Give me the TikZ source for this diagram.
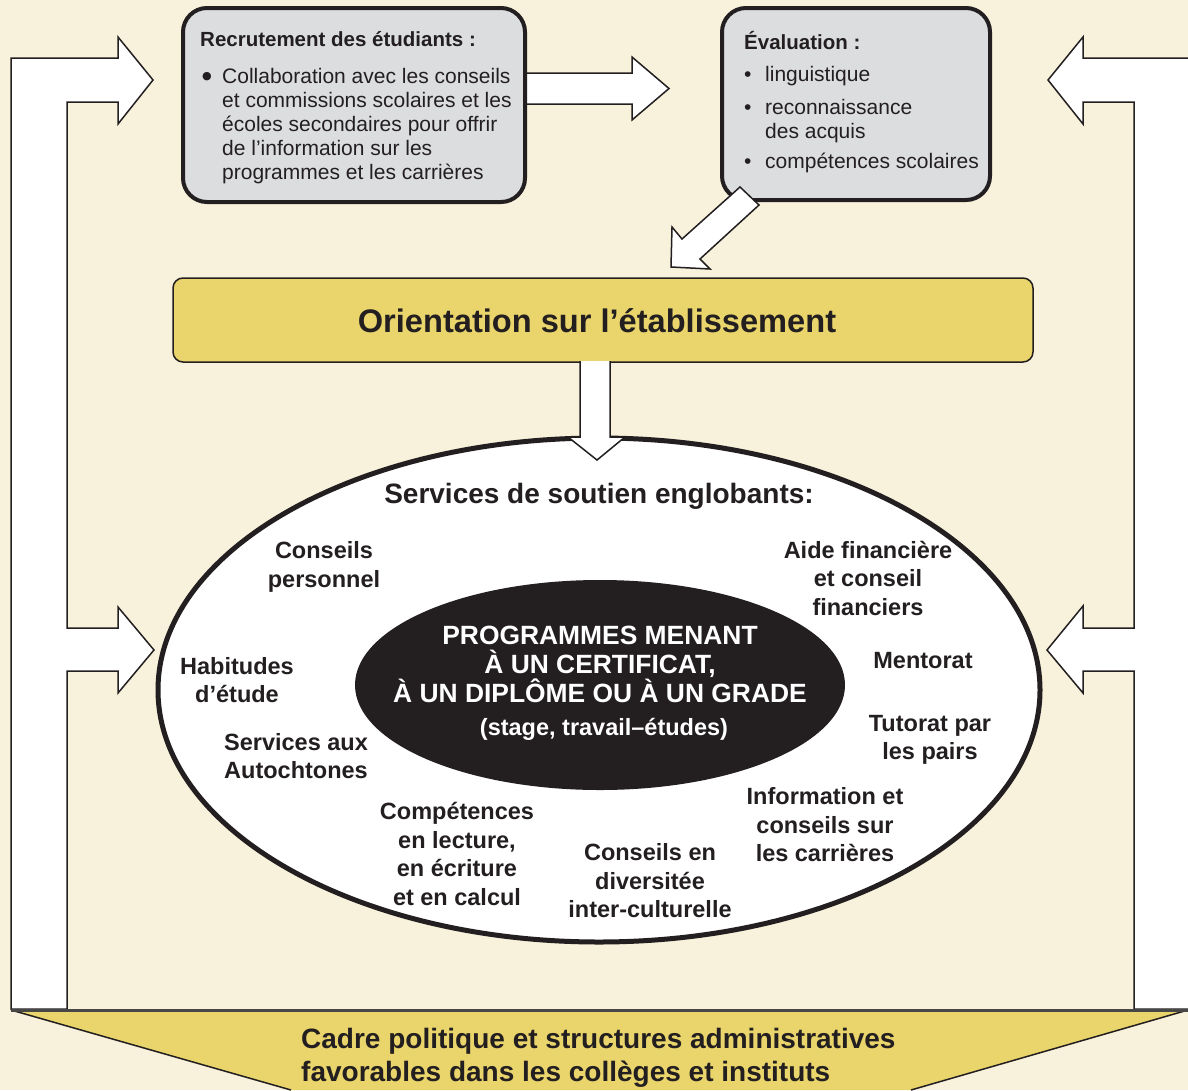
\documentclass[tikz,border=0pt]{standalone}
\usepackage{fontspec}
\setmainfont{Liberation Sans}
\newfontfamily\dejavu{DejaVu Sans}
\definecolor{cream}{RGB}{248,241,219}
\definecolor{boxgray}{RGB}{220,221,223}
\definecolor{gold}{RGB}{233,213,107}
\definecolor{ink}{RGB}{35,31,32}
\tikzset{
  pipe/.style={fill=white, draw=ink, line width=1.5pt, line join=miter},
  blockarrow/.style={fill=white, draw=ink, line width=1.5pt, line join=miter},
  graybox/.style={draw=ink, fill=boxgray, line width=4pt, rounded corners=24pt, inner sep=0pt},
  boxtitle/.style={anchor=base west, inner sep=0pt, font=\fontsize{20.5}{24}\selectfont\bfseries, text=ink},
  boxline/.style={anchor=base west, inner sep=0pt, font=\fontsize{21}{24}\selectfont, text=ink},
  lbl/.style={align=center, inner sep=0pt, font=\fontsize{23.5}{28.5}\selectfont\bfseries, text=ink},
}
\begin{document}
\begin{tikzpicture}[x=1pt,y=-1pt]
\useasboundingbox (0,0) rectangle (1188,1090);
\fill[cream] (0,0) rectangle (1188,1090);

% bottom trapezoid
\fill[gold] (11,1010) -- (1190,1010) -- (911,1090) -- (291,1090) -- cycle;
\draw[ink, line width=1.5pt] (11,1010) -- (291,1090);
\draw[ink, line width=1.5pt] (1188,1010) -- (911,1090);
\node[anchor=base west, inner sep=0pt, font=\fontsize{28}{33}\selectfont\bfseries, text=ink] (cadre1) at (301,1048) {Cadre politique et structures administratives};
\node[anchor=base west, inner sep=0pt, font=\fontsize{28}{33}\selectfont\bfseries, text=ink] (cadre2) at (301,1081) {favorables dans les collèges et instituts};

% left pipe
\draw[pipe] (11,1009) -- (11,58) -- (118,58) -- (118,37) -- (153,80) -- (118,124) -- (118,102) -- (67,102) -- (67,628) -- (118,628) -- (118,607) -- (154,650) -- (118,693) -- (118,671) -- (67,671) -- (67,1009) -- cycle;
% right pipe
\draw[pipe] (1195,58) -- (1083,58) -- (1083,37) -- (1048,80) -- (1083,124) -- (1083,102) -- (1134,102) -- (1134,628) -- (1083,628) -- (1083,606) -- (1047,650) -- (1083,693) -- (1083,671) -- (1134,671) -- (1134,1009) -- (1195,1009);
\draw[line width=3pt, black!72] (11,1010) -- (1190,1010);

% arrow between top boxes
\draw[blockarrow] (515,73) -- (632,73) -- (632,57) -- (669,88.5) -- (632,120) -- (632,104) -- (515,104);

% top boxes
\node[graybox, minimum width=342pt, minimum height=194pt] (recr) at (354,105) {};
\node[boxtitle] (recrT) at (200,46) {Recrutement des étudiants :};
\node[inner sep=0pt, font=\dejavu\fontsize{11}{11}\selectfont, text=ink] (recrB) at (207,77) {●};
\node[boxline] (r1) at (222,83) {Collaboration avec les conseils};
\node[boxline] (r2) at (222,107) {et commissions scolaires et les};
\node[boxline] (r3) at (222,131) {écoles secondaires pour offrir};
\node[boxline] (r4) at (222,155) {de l’information sur les};
\node[boxline] (r5) at (222,179) {programmes et les carrières};

\node[graybox, minimum width=268pt, minimum height=192pt] (eval) at (856,104) {};
\node[boxtitle] (evalT) at (744,49) {Évaluation :};
\node[boxline] (eb1) at (744,81) {•};
\node[boxline] (e1) at (765,81) {linguistique};
\node[boxline] (eb2) at (744,114) {•};
\node[boxline] (e2) at (765,114) {reconnaissance};
\node[boxline] (e2b) at (765,138) {des acquis};
\node[boxline] (eb3) at (744,168) {•};
\node[boxline] (e3) at (765,168) {compétences scolaires};

% diagonal arrow
\draw[blockarrow] (740,187) -- (682,239) -- (672,227) -- (671,267) -- (710,269) -- (700,259) -- (759,205) -- cycle;

% orientation box
\node[draw=ink, fill=gold, line width=1.5pt, rounded corners=10pt, minimum width=860pt, minimum height=84pt, inner sep=0pt] (orient) at (603,320) {};
\node[inner sep=0pt, font=\fontsize{32.6}{36}\selectfont\bfseries, text=ink] (orientT) at (597,321) {Orientation sur l’établissement};

% outer ellipse
\draw[ink, fill=white, line width=5pt] (599,690) ellipse [x radius=441, y radius=252];
% down arrow
\draw[blockarrow] (580,361) -- (580,437) -- (568,437) -- (597,460) -- (625,437) -- (610,437) -- (610,361);

% inner ellipse
\fill[ink] (600,685) ellipse [x radius=245, y radius=105];

\node[lbl, font=\fontsize{28}{33}\selectfont\bfseries] (serv) at (599,496) {Services de soutien englobants:};
\node[lbl] (cp) at (324,567) {Conseils\\personnel};
\node[lbl] (af) at (868,578) {Aide financière\\et conseil\\financiers};
\node[lbl] (me) at (923,661) {Mentorat};
\node[lbl] (tu) at (930,740) {Tutorat par\\les pairs};
\node[lbl] (ic) at (825,825) {Information et\\conseils sur\\les carrières};
\node[lbl] (cd) at (650,881) {Conseils en\\diversitée\\inter-culturelle};
\node[lbl] (co) at (457,854) {Compétences\\en lecture,\\en écriture\\et en calcul};
\node[lbl] (sa) at (296,756) {Services aux\\Autochtones};
\node[lbl] (ha) at (237,680) {Habitudes\\d’étude};

\node[lbl, text=white, font=\fontsize{26.4}{29}\selectfont\bfseries] (prog) at (600,664) {PROGRAMMES MENANT\\À UN CERTIFICAT,\\À UN DIPLÔME OU À UN GRADE};
\node[lbl, text=white, font=\fontsize{23.5}{28}\selectfont\bfseries] (stage) at (604,729) {(stage, travail–études)};
\end{tikzpicture}
\end{document}
